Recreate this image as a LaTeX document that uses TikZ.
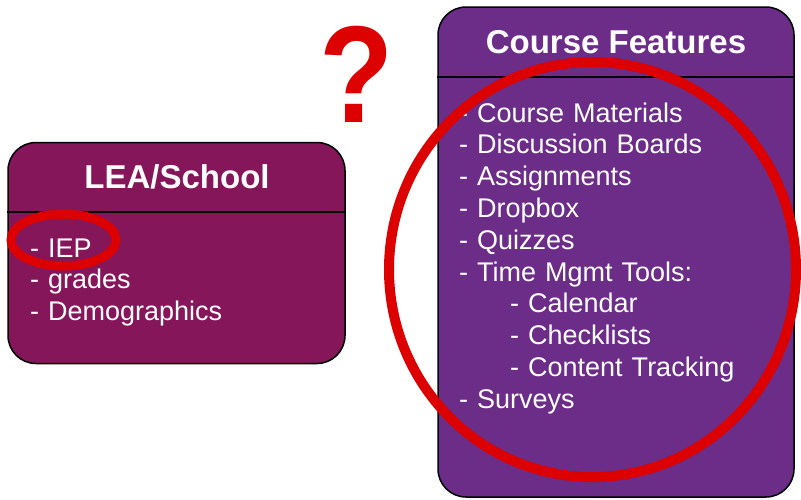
\documentclass[tikz,border=0pt]{standalone}
\usepackage{fontspec}
\setmainfont{Liberation Sans}
\usepackage{tikz}
\usetikzlibrary{positioning}

\definecolor{leacolor}{RGB}{133,22,90}
\definecolor{coursecolor}{RGB}{107,45,135}
\definecolor{markred}{RGB}{220,0,0}

\tikzset{
  panel/.style={draw=black, line width=1.5pt, rounded corners=28pt, inner sep=0pt},
  heading/.style={text=white, font=\fontsize{33}{36}\selectfont\bfseries, inner sep=0pt, anchor=base},
  entry/.style={text=white, font=\fontsize{27}{32}\selectfont, inner sep=0pt, text width=300pt, align=left, text height=20pt, text depth=7pt},
  ring/.style={draw=markred}
}

\begin{document}
\begin{tikzpicture}[x=1pt, y=-1pt, node distance=31.8pt]
\useasboundingbox (0,0) rectangle (801,499);

% boxes
\node[name=lea, panel, fill=leacolor, minimum width=337pt, minimum height=221pt] at (176.5,253) {};
\node[name=course, panel, fill=coursecolor, minimum width=356pt, minimum height=490pt] at (616,252) {};
\draw[line width=1.5pt] (lea.west |- 0,212) -- (lea.east |- 0,212);
\draw[line width=1.5pt] (course.west |- 0,77) -- (course.east |- 0,77);

% headings
\node[name=lea_head, heading] at (177,188) {LEA/School};
\node[name=course_head, heading] at (616,53) {Course Features};

% LEA items
\node[name=iep, entry, anchor=base west] at (30,257) {- IEP};
\node[name=grades, entry, below of=iep] {- grades};
\node[name=demo, entry, below of=grades] {- Demographics};

% course items
\node[name=materials, entry, anchor=base west] at (459,122) {- Course Materials};
\node[name=boards, entry, below of=materials] {- Discussion Boards};
\node[name=assign, entry, below of=boards] {- Assignments};
\node[name=dropbox, entry, below of=assign] {- Dropbox};
\node[name=quizzes, entry, below of=dropbox] {- Quizzes};
\node[name=time, entry, below of=quizzes] {- Time Mgmt Tools:};
\node[name=calendar, entry, below of=time, xshift=51pt] {- Calendar};
\node[name=checklists, entry, below of=calendar] {- Checklists};
\node[name=tracking, entry, below of=checklists] {- Content Tracking};
\node[name=surveys, entry, below of=tracking, xshift=-51pt] {- Surveys};

% marks
\node[name=question, text=markred, font=\fontsize{138}{140}\selectfont\bfseries, inner sep=0pt, anchor=base, xscale=0.88] at (357,122) {?};
\draw[ring, line width=9pt] (63.5,240) ellipse [x radius=52.5pt, y radius=26pt];
\draw[ring, line width=10pt] (592.5,269.5) ellipse [x radius=203.5pt, y radius=207.5pt];

\end{tikzpicture}
\end{document}
